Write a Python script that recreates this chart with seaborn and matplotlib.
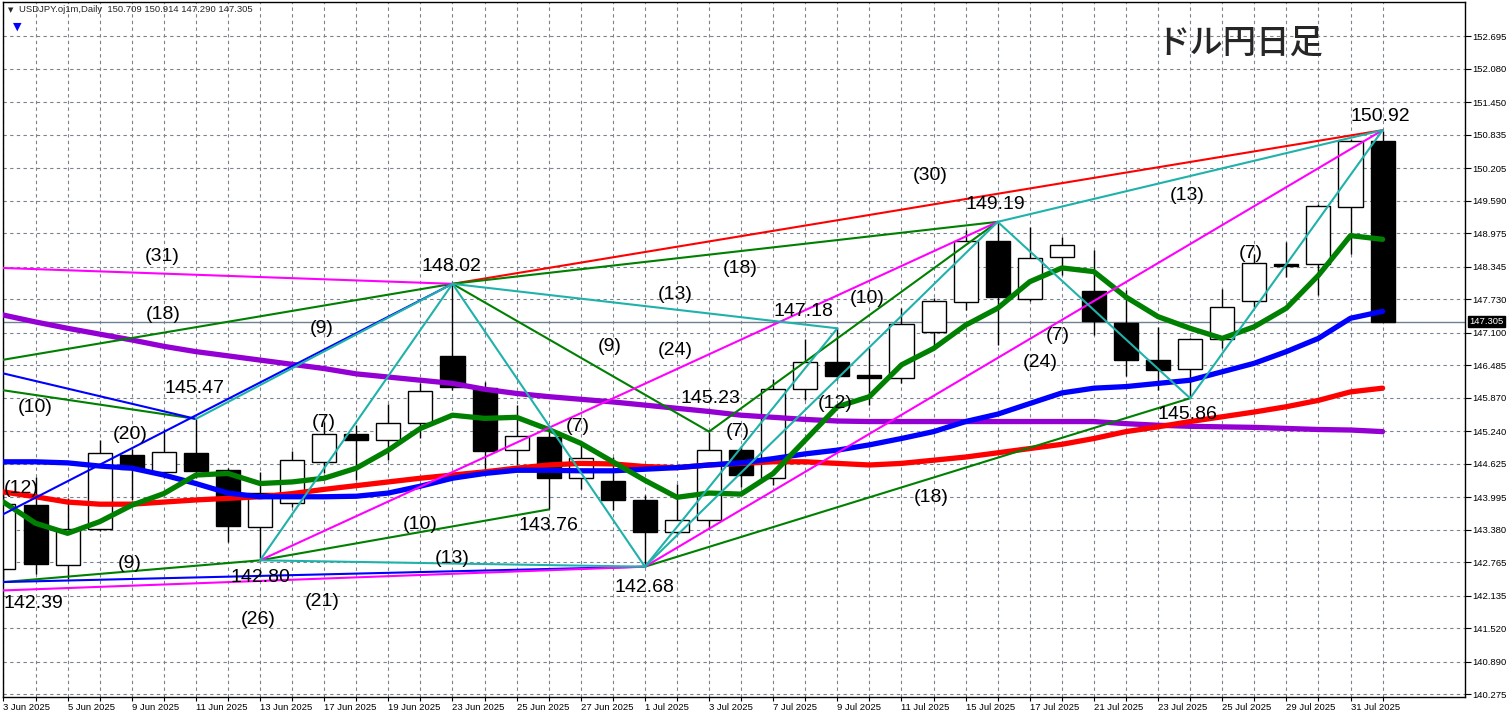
import matplotlib
matplotlib.use("Agg")
import matplotlib.pyplot as plt
import seaborn as sns
import numpy as np

# trading days shown (bar index 0..43)
dates = ["3 Jun", "4 Jun", "5 Jun", "6 Jun", "9 Jun", "10 Jun", "11 Jun", "12 Jun", "13 Jun",
         "16 Jun", "17 Jun", "18 Jun", "19 Jun", "20 Jun", "23 Jun", "24 Jun", "25 Jun", "26 Jun",
         "27 Jun", "30 Jun", "1 Jul", "2 Jul", "3 Jul", "4 Jul", "7 Jul", "8 Jul", "9 Jul", "10 Jul",
         "11 Jul", "14 Jul", "15 Jul", "16 Jul", "17 Jul", "18 Jul", "21 Jul", "22 Jul", "23 Jul",
         "24 Jul", "25 Jul", "28 Jul", "29 Jul", "30 Jul", "31 Jul", "1 Aug"]

# OHLC
opens = [142.63, 143.84, 142.72, 143.40, 144.79, 144.46, 144.82, 144.50, 143.43, 143.89,
         144.65, 145.18, 145.08, 145.40, 146.66, 146.06, 144.88, 145.12, 144.35, 144.30,
         143.94, 143.34, 143.56, 144.89, 144.35, 146.03, 146.54, 146.30, 146.24, 147.11,
         147.67, 148.83, 147.74, 148.52, 147.88, 147.28, 146.59, 146.42, 146.97, 147.69,
         148.40, 148.39, 149.47, 150.709]
highs = [144.10, 144.38, 143.97, 145.08, 144.91, 145.27, 145.47, 144.55, 144.47, 144.86,
         145.41, 145.35, 145.76, 146.14, 148.02, 146.17, 145.73, 145.32, 144.98, 144.75,
         144.03, 144.25, 145.23, 144.95, 146.23, 146.98, 147.18, 146.80, 147.56, 147.76,
         149.03, 149.19, 149.10, 148.91, 148.66, 147.90, 147.21, 147.00, 147.93, 148.59,
         148.81, 149.52, 150.75, 150.914]
lows = [142.39, 142.55, 142.45, 143.35, 143.94, 144.35, 144.35, 143.15, 142.80, 143.80,
        144.45, 144.31, 144.69, 145.10, 146.01, 144.52, 144.60, 143.76, 144.14, 143.75,
        142.68, 143.30, 143.40, 144.19, 144.22, 145.82, 146.20, 145.73, 146.14, 146.86,
        147.52, 146.86, 147.70, 148.18, 147.05, 146.28, 146.01, 145.86, 146.80, 147.59,
        148.15, 147.81, 148.59, 147.290]
closes = [143.87, 142.74, 143.40, 144.82, 144.52, 144.84, 144.49, 143.45, 144.08, 144.69,
          145.18, 145.08, 145.40, 146.00, 146.08, 144.87, 145.15, 144.35, 144.74, 143.94,
          143.34, 143.56, 144.89, 144.41, 146.03, 146.54, 146.28, 146.24, 147.27, 147.69,
          148.83, 147.77, 148.50, 148.75, 147.32, 146.59, 146.40, 146.97, 147.59, 148.42,
          148.36, 149.49, 150.71, 147.305]

# moving averages
ma_green = [143.90, 143.50, 143.31, 143.53, 143.84, 144.06, 144.41, 144.44, 144.25, 144.28,
            144.35, 144.54, 144.88, 145.29, 145.54, 145.48, 145.50, 145.27, 145.01, 144.66,
            144.31, 143.99, 144.07, 144.05, 144.44, 145.07, 145.70, 145.89, 146.49, 146.80,
            147.24, 147.56, 148.06, 148.32, 148.25, 147.77, 147.40, 147.18, 146.99, 147.21,
            147.56, 148.18, 148.93, 148.86]
ma_blue = [144.66, 144.66, 144.64, 144.58, 144.54, 144.41, 144.25, 144.07, 144.00, 144.00,
           144.00, 144.01, 144.07, 144.20, 144.35, 144.44, 144.50, 144.50, 144.49, 144.49,
           144.52, 144.55, 144.60, 144.64, 144.72, 144.81, 144.88, 144.98, 145.10, 145.23,
           145.42, 145.56, 145.76, 145.96, 146.05, 146.08, 146.14, 146.20, 146.36, 146.52,
           146.74, 146.99, 147.37, 147.50]
ma_red = [144.09, 144.00, 143.90, 143.86, 143.86, 143.90, 143.94, 143.97, 144.00, 144.06,
          144.14, 144.21, 144.28, 144.35, 144.41, 144.47, 144.54, 144.60, 144.63, 144.62,
          144.57, 144.55, 144.60, 144.63, 144.66, 144.66, 144.63, 144.60, 144.63, 144.69,
          144.75, 144.83, 144.91, 144.99, 145.10, 145.23, 145.32, 145.42, 145.51, 145.60,
          145.70, 145.82, 145.98, 146.05]
ma_purple = [147.43, 147.30, 147.18, 147.07, 146.96, 146.84, 146.74, 146.66, 146.58, 146.50,
             146.42, 146.32, 146.26, 146.20, 146.14, 146.03, 145.95, 145.89, 145.84, 145.79,
             145.73, 145.67, 145.61, 145.54, 145.50, 145.46, 145.43, 145.42, 145.42, 145.42,
             145.42, 145.42, 145.42, 145.42, 145.42, 145.38, 145.35, 145.33, 145.32, 145.31,
             145.29, 145.27, 145.26, 145.23]

# zigzag pivots (bar index, price); negative bars are before the visible range
piv = {
    "M16": (-16, 148.66), "G3": (-3, 146.28), "B4": (-4, 146.90), "L5": (-5, 142.12),
    "A": (0, 142.39), "B": (6, 145.47), "C": (8, 142.80), "D": (14, 148.02),
    "E": (17, 143.76), "F": (20, 142.68), "G": (22, 145.23), "H": (26, 147.18),
    "I": (31, 149.19), "J": (37, 145.86), "K": (43, 150.92),
}
zig_red = [("D", "K")]
zig_green = [("G3", "D"), ("G3", "B"), ("A", "C"), ("C", "E"), ("D", "G"), ("G", "I"),
             ("D", "I"), ("F", "J")]
zig_blue = [("B4", "B"), ("L5", "D"), ("A", "F")]
zig_magenta = [("M16", "D"), ("L5", "F"), ("C", "I"), ("F", "K")]
zig_cyan = [("B", "D"), ("C", "D"), ("D", "F"), ("D", "H"), ("C", "F"), ("F", "H"),
            ("F", "I"), ("I", "J"), ("J", "K"), ("I", "K")]

# text annotations: (text, bar, price)
notes = [("(31)", 4.94, 148.54), ("(18)", 4.97, 147.45), ("(9)", 9.93, 147.18),
         ("(10)", 0.98, 145.69), ("145.47", 5.97, 146.05), ("(20)", 3.94, 145.18),
         ("(9)", 3.94, 142.74),
         ("142.80", 8.0, 142.48), ("(26)", 7.94, 141.69), ("(21)", 9.93, 142.03),
         ("(7)", 9.99, 145.41), ("148.02", 13.98, 148.35), ("(13)", 20.94, 147.81),
         ("(9)", 18.91, 146.84), ("(24)", 20.94, 146.77), ("(7)", 17.91, 145.32),
         ("(10)", 12.99, 143.47), ("143.76", 16.98, 143.45), ("(13)", 13.98, 142.84),
         ("142.68", 19.97, 142.28), ("145.23", 22.03, 145.86), ("(7)", 22.90, 145.24),
         ("(18)", 22.96, 148.30), ("147.18", 24.93, 147.50), ("(10)", 26.93, 147.75),
         ("(12)", 25.93, 145.77), ("149.19", 30.92, 149.51), ("(24)", 32.32, 146.54),
         ("(18)", 28.92, 143.99), ("(30)", 28.89, 150.07), ("(7)", 32.88, 147.05),
         ("145.86", 36.93, 145.56), ("(13)", 36.90, 149.68), ("(7)", 38.90, 148.60),
         ("150.92", 42.92, 151.17)]
# labels sitting at the left edge of the chart
edge_notes = [("(12)", 0.0, 144.16), ("142.39", 0.0, 141.99)]

yticks = [152.695, 152.080, 151.450, 150.835, 150.205, 149.590, 148.975, 148.345, 147.730,
          147.100, 146.485, 145.870, 145.240, 144.625, 143.995, 143.380, 142.765, 142.135,
          141.520, 140.890, 140.275]
last_price = 147.305

sns.set_style("white")
plt.rcParams["font.family"] = ["Liberation Sans", "Noto Sans CJK JP", "DejaVu Sans"]

fig = plt.figure(figsize=(15.11, 7.19), dpi=100)
ax = fig.add_axes([2.5 / 1511, 22 / 719, 1462.5 / 1511, 695 / 719])

x = np.arange(len(dates))
o, h, l, c = map(np.array, (opens, highs, lows, closes))
up = c >= o

# candles
ax.vlines(x, l, h, color="black", lw=1, zorder=2)
body_lo = np.minimum(o, c)
body_h = np.maximum(np.abs(c - o), 0.03)
ax.bar(x, body_h, bottom=body_lo, width=0.75,
       color=np.where(up, "white", "black"), edgecolor="black", lw=1, zorder=2.5)

# moving averages
for vals, col in [(ma_purple, "#9400D3"), (ma_red, "#FF0000"),
                  (ma_blue, "#0000FF"), (ma_green, "#008000")]:
    sns.lineplot(x=x, y=vals, color=col, lw=3.8, ax=ax, zorder=3)

# zigzag lines
for segs, col in [(zig_red, "#FF0000"), (zig_green, "#008000"), (zig_blue, "#0000FF"),
                  (zig_magenta, "#FF00FF"), (zig_cyan, "#20B2AA")]:
    for a, b in segs:
        p, q = piv[a], piv[b]
        sns.lineplot(x=[p[0], q[0]], y=[p[1], q[1]], color=col, lw=1.5, ax=ax, zorder=4)

ax.axhline(last_price, color="#708090", lw=1, zorder=1.5)

for txt, bx, py in notes:
    ax.text(bx, py, txt, fontsize=14, ha="center", va="center", color="black",
            zorder=6, clip_on=True)
for txt, bx, py in edge_notes:
    ax.text(bx, py, txt, fontsize=14, ha="left", va="center", color="black", zorder=6)

ax.set_xlim(-0.03, 45.57)
ax.set_ylim(140.22, 153.34)

# axes styling, MT4-like
ax.set_yticks(yticks)
ax.set_yticklabels([f"{v:.3f}" for v in yticks])
ax.yaxis.tick_right()
ax.set_xticks(x)
ax.set_xticklabels([d + " 2025" if i % 2 == 0 else "" for i, d in enumerate(dates)],
                   ha="left")
ax.tick_params(axis="both", labelsize=6.8, length=4, width=0.8, pad=1.5, colors="black")
ax.tick_params(axis="y", right=True, left=False)
ax.tick_params(axis="x", bottom=True, length=3, pad=1.5)
ax.grid(True, color="#7a8290", lw=0.8, linestyle=(0, (3, 3)))
ax.set_axisbelow(True)
for s in ax.spines.values():
    s.set_color("black")
    s.set_linewidth(1)
ax.set_xlabel("")
ax.set_ylabel("")

ax.annotate(f"{last_price:.3f}", xy=(1, last_price), xycoords=ax.get_yaxis_transform(),
            xytext=(3, 0), textcoords="offset points", ha="left", va="center",
            fontsize=6.8, color="white", annotation_clip=False,
            bbox=dict(boxstyle="square,pad=0.12", fc="black", ec="black"))

ax.text(0.004, 0.989, "▼", transform=ax.transAxes, fontsize=5, va="center",
        family="DejaVu Sans")
ax.text(0.011, 0.989, "USDJPY.oj1m,Daily  150.709 150.914 147.290 147.305",
        transform=ax.transAxes, fontsize=6.8, va="center")
ax.text(0.0075, 0.965, "▼", transform=ax.transAxes, fontsize=8, va="center",
        color="#0000FF", family="DejaVu Sans")

ax.text(1237 / 1462.5, 1 - 41 / 695, "ドル円日足", transform=ax.transAxes, fontsize=24,
        ha="center", va="center", fontweight="medium",
        family=["Noto Sans CJK JP", "DejaVu Sans"])

fig.savefig("out.png", dpi=100)
